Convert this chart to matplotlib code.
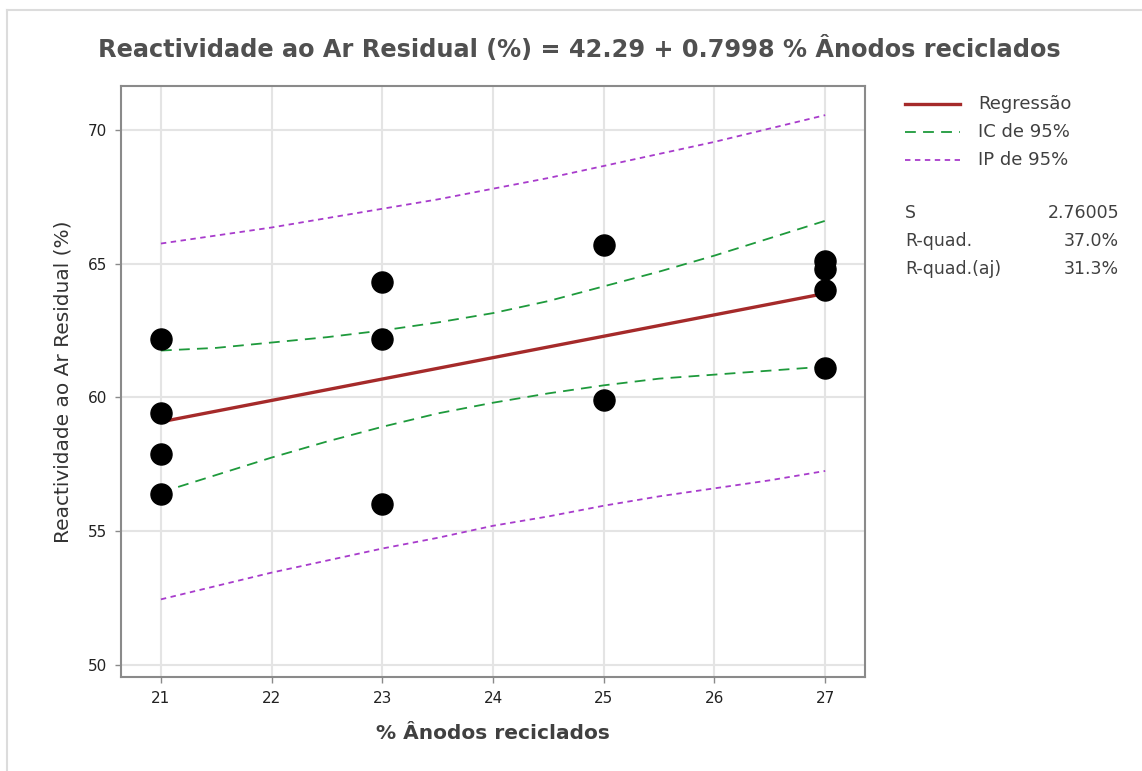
import matplotlib.pyplot as plt
from matplotlib.lines import Line2D

# observations
x_obs = [21, 21, 21, 21, 23, 23, 23, 25, 25, 27, 27, 27, 27]
y_obs = [62.2, 59.4, 57.9, 56.4, 64.3, 62.2, 56.0, 65.7, 59.9, 65.1, 64.8, 64.0, 61.1]

# fitted line from the equation
intercept = 42.29
slope = 0.7998

# confidence / prediction bands
x_band = [21, 21.5, 22, 22.5, 23, 23.5, 24, 24.5, 25, 25.5, 26, 26.5, 27]
ci_upper = [61.75, 61.85, 62.05, 62.25, 62.5, 62.8, 63.15, 63.6, 64.15, 64.7, 65.3, 65.95, 66.6]
ci_lower = [56.45, 57.1, 57.75, 58.35, 58.9, 59.4, 59.8, 60.15, 60.45, 60.7, 60.85, 61.0, 61.15]
pi_upper = [65.75, 66.05, 66.35, 66.7, 67.05, 67.4, 67.8, 68.2, 68.65, 69.1, 69.55, 70.05, 70.55]
pi_lower = [52.45, 52.95, 53.45, 53.9, 54.35, 54.75, 55.2, 55.55, 55.95, 56.3, 56.6, 56.9, 57.25]

stat_names = ["S", "R-quad.", "R-quad.(aj)"]
stat_values = ["2.76005", "37.0%", "31.3%"]

txt = "#404040"
red = "#a52a2a"
green = "#1e9a3c"
purple = "#a83ccc"

fig = plt.figure(figsize=(11.42, 7.71), dpi=100)
ax = fig.add_axes([0.106, 0.122, 0.6515, 0.7665])

ax.plot(x_band, pi_upper, color=purple, lw=1.3, dashes=(3, 2.5))
ax.plot(x_band, pi_lower, color=purple, lw=1.3, dashes=(3, 2.5))
ax.plot(x_band, ci_upper, color=green, lw=1.3, dashes=(6, 4))
ax.plot(x_band, ci_lower, color=green, lw=1.3, dashes=(6, 4))

x_fit = [min(x_obs), max(x_obs)]
y_fit = [intercept + slope * v for v in x_fit]
ax.plot(x_fit, y_fit, color=red, lw=2.4, solid_capstyle="butt")

ax.scatter(x_obs, y_obs, s=230, color="black", zorder=5)

ax.set_xlim(20.64, 27.36)
ax.set_ylim(49.55, 71.64)
ax.set_xticks(range(21, 28))
ax.set_yticks(range(50, 71, 5))
ax.grid(True, color="#e4e4e4", lw=1.5)
ax.set_axisbelow(True)
for s in ax.spines.values():
    s.set_color("#8a8a8a")
    s.set_linewidth(1.5)
ax.tick_params(colors="#8a8a8a", labelcolor="#222222", labelsize=11, length=4, width=1, pad=6)

ax.set_xlabel("% Ânodos reciclados", fontsize=14.5, fontweight="bold", color=txt, labelpad=13)
ax.set_ylabel("Reactividade ao Ar Residual (%)", fontsize=14.5, color="#333333", labelpad=11)

fig.text(0.507, 0.937, "Reactividade ao Ar Residual (%) = 42.29 + 0.7998 % Ânodos reciclados",
         ha="center", va="center", fontsize=17.3, fontweight="bold", color="#505050")

# legend drawn in figure coordinates
leg_items = [("Regressão", red, 2.4, None), ("IC de 95%", green, 1.3, (6, 4)), ("IP de 95%", purple, 1.3, (3, 2.5))]
for i, (lab, col, lw, dash) in enumerate(leg_items):
    yy = 1 - (104 + i * 28) / 771
    ln = Line2D([905 / 1142, 960 / 1142], [yy, yy], color=col, lw=lw, transform=fig.transFigure)
    if dash:
        ln.set_dashes(dash)
    fig.add_artist(ln)
    fig.text(978 / 1142, yy, lab, fontsize=13, color=txt, va="center", ha="left")

for i, (n, v) in enumerate(zip(stat_names, stat_values)):
    yy = 1 - (213 + i * 28) / 771
    fig.text(905 / 1142, yy, n, fontsize=12.5, color=txt, va="center", ha="left")
    fig.text(1119 / 1142, yy, v, fontsize=12.5, color=txt, va="center", ha="right")

# light frame at top and left edges
fig.add_artist(Line2D([7 / 1142, 1], [1 - 10 / 771] * 2, color="#dcdcdc", lw=1.5, transform=fig.transFigure))
fig.add_artist(Line2D([7 / 1142] * 2, [0, 1 - 10 / 771], color="#dcdcdc", lw=1.5, transform=fig.transFigure))

fig.savefig("out.png", dpi=100)
